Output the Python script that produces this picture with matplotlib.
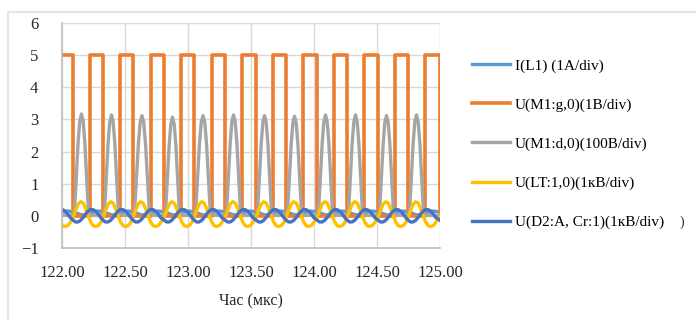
import matplotlib
matplotlib.use("Agg")
import matplotlib.pyplot as plt
import matplotlib.patches as patches

plt.rcParams['font.family'] = ['Liberation Serif', 'DejaVu Serif']

# --------- data (time in мкс)
period = 0.242
gate_fall = [122.087, 122.325, 122.563, 122.810, 123.048, 123.294, 123.540,
             123.778, 124.024, 124.262, 124.508, 124.746, 124.998]
gate_rise = [122.222, 122.460, 122.706, 122.944, 123.190, 123.429, 123.675,
             123.913, 124.159, 124.397, 124.643, 124.881]
gate_high = 5.0
gate_low = 0.0

drain_peak = [3.15, 3.12, 3.10, 3.05, 3.10, 3.12, 3.10, 3.08, 3.12, 3.12, 3.10, 3.12]
drain_shape = [0.0, 0.06, 0.38, 0.71, 0.93, 1.0, 0.93, 0.71, 0.38, 0.06, 0.0]
drain_base = 0.02

# one cycle, 12 samples starting at each gate fall
cycle_frac = [0.0, 0.083, 0.167, 0.25, 0.333, 0.417, 0.5, 0.583, 0.667, 0.75, 0.833, 0.917]
lt_cycle = [-0.05, 0.15, 0.36, 0.44, 0.40, 0.22, 0.0, -0.20, -0.31, -0.33, -0.30, -0.20]
d2_cycle = [-0.13, -0.19, -0.19, -0.14, -0.05, 0.06, 0.15, 0.20, 0.19, 0.14, 0.05, -0.06]
il1_cycle = [0.12, 0.10, 0.07, 0.04, 0.03, 0.04, 0.06, 0.09, 0.12, 0.14, 0.15, 0.14]

labels = ["I(L1) (1A/div)", "U(M1:g,0)(1B/div)", "U(M1:d,0)(100B/div)",
          "U(LT:1,0)(1кB/div)", "U(D2:A, Cr:1)(1кB/div)"]
colors = ["#5B9BD5", "#ED7D31", "#A5A5A5", "#FFC000", "#4472C4"]

x_ticks = [122.0, 122.5, 123.0, 123.5, 124.0, 124.5, 125.0]
y_ticks = [-1, 0, 1, 2, 3, 4, 5, 6]

# --------- build the traces
t_gate, v_gate = [122.0], [gate_high]
for i, tf in enumerate(gate_fall):
    t_gate += [tf, tf]
    v_gate += [gate_high, gate_low]
    if i < len(gate_rise):
        tr = gate_rise[i]
        t_gate += [tr, tr]
        v_gate += [gate_low, gate_high]
t_gate.append(125.0)
v_gate.append(v_gate[-1])

t_drain, v_drain = [122.0], [drain_base]
for i, tr in enumerate(gate_rise):
    tf = gate_fall[i]
    n = len(drain_shape) - 1
    for k, s in enumerate(drain_shape):
        t_drain.append(tf + (tr - tf) * k / n)
        v_drain.append(drain_base + drain_peak[i] * s)
t_drain.append(125.0)
v_drain.append(drain_base)

def tile(cycle):
    tt, vv = [], []
    starts = [gate_fall[0] - period] + gate_fall
    for st in starts:
        for f, v in zip(cycle_frac, cycle):
            tt.append(st + f * period)
            vv.append(v)
    return tt, vv

t_lt, v_lt = tile(lt_cycle)
t_d2, v_d2 = tile(d2_cycle)
t_il, v_il = tile(il1_cycle)

# --------- plot
fig = plt.figure(figsize=(6.96, 3.2), dpi=100)
fig.patches.append(patches.Rectangle((8 / 696, -0.1), 700 / 696, 1 - 12 / 320 + 0.1,
                                     transform=fig.transFigure, fill=False,
                                     edgecolor="#EBE3DC", linewidth=1.5))
ax = fig.add_axes([62 / 696, 1 - 248 / 320, 378 / 696, 225 / 320])

lw = 2.4
l1, = ax.plot(t_il, v_il, color=colors[0], linewidth=lw)
l2, = ax.plot(t_gate, v_gate, color=colors[1], linewidth=2.6)
l3, = ax.plot(t_drain, v_drain, color=colors[2], linewidth=lw)
l4, = ax.plot(t_lt, v_lt, color=colors[3], linewidth=lw)
l5, = ax.plot(t_d2, v_d2, color=colors[4], linewidth=lw)

ax.set_xlim(122.0, 125.0)
ax.set_ylim(-1, 6)
ax.set_xticks(x_ticks)
ax.set_xticklabels(["%.2f" % v for v in x_ticks])
ax.set_yticks(y_ticks)
ax.grid(True, color="#D9D9D9", linewidth=1.0)
ax.set_axisbelow(True)
for s in ["top", "right"]:
    ax.spines[s].set_visible(False)
for s in ["left", "bottom"]:
    ax.spines[s].set_color("#BFBFBF")
    ax.spines[s].set_linewidth(1.2)
ax.tick_params(length=0, labelsize=12, colors="#262626")
ax.tick_params(axis="y", pad=17)
ax.tick_params(axis="x", pad=12)
ax.set_xlabel("Час (мкс)", fontsize=11.5, color="#262626", labelpad=9)

fig.legend([l1, l2, l3, l4, l5], labels, loc="upper left",
           bbox_to_anchor=(472 / 696, 1 - 59 / 320), frameon=False,
           fontsize=11, handlelength=2.5, handletextpad=0.3,
           labelspacing=1.65, borderpad=0, borderaxespad=0)
fig.text(680 / 696, 1 - 222 / 320, ")", fontsize=10, va="center", color="#262626")

fig.savefig("out.png", dpi=100)
